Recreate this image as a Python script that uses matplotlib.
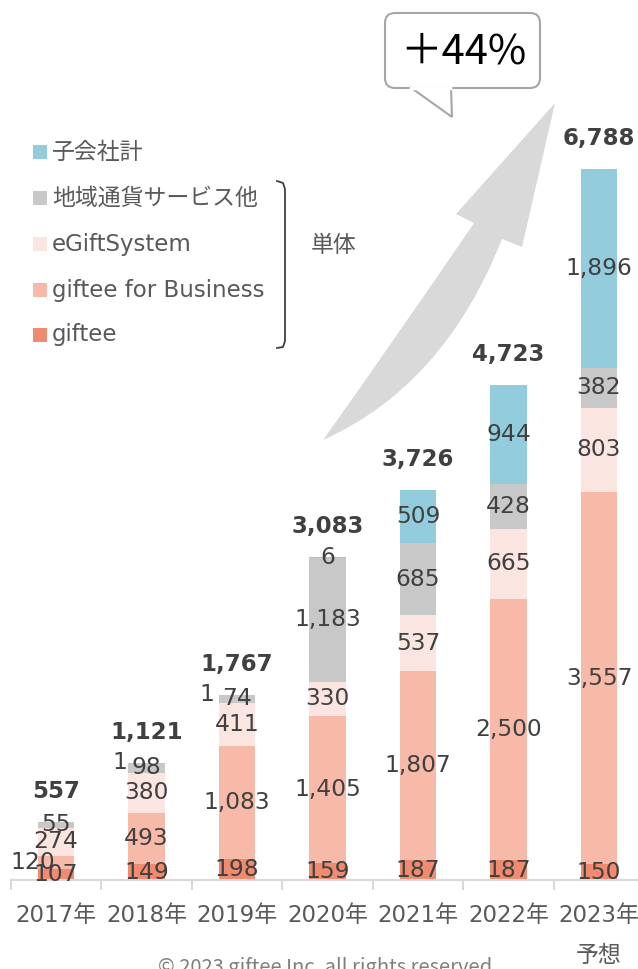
import numpy as np
import matplotlib
matplotlib.use("Agg")
import matplotlib.pyplot as plt
from matplotlib.path import Path
from matplotlib.patches import PathPatch, FancyBboxPatch, Rectangle, Polygon

plt.rcParams['font.family'] = ['DejaVu Sans', 'Noto Sans CJK JP']

years = ["2017年", "2018年", "2019年", "2020年", "2021年", "2022年", "2023年"]
series = ["giftee", "giftee for Business", "eGiftSystem", "地域通貨サービス他", "子会社計"]
giftee = [107, 149, 198, 159, 187, 187, 150]
gfb = [120, 493, 1083, 1405, 1807, 2500, 3557]
egift = [274, 380, 411, 330, 537, 665, 803]
chiiki = [55, 98, 74, 1183, 685, 428, 382]
kogaisha = [0, 1, 1, 6, 509, 944, 1896]
totals = [557, 1121, 1767, 3083, 3726, 4723, 6788]

colors = ["#F08B70", "#F7B9A8", "#FBE5E0", "#C8C8C8", "#93CDDD"]
txt = "#404040"
W, H = 638, 969

fig = plt.figure(figsize=(W / 100, H / 100), dpi=100)
ax = fig.add_axes([10.75 / W, 89 / H, 633.5 / W, 880 / H])
ax.set_xlim(-0.5, 6.5)
ax.set_ylim(0, 8402)
ax.patch.set_alpha(0)

data = [giftee, gfb, egift, chiiki, kogaisha]
x = np.arange(len(years))
bottom = np.zeros(len(years))
# labels that Excel had nudged to the left of the bar
shifted = {(0, 1): -17, (1, 4): -19, (2, 4): -22}
for s, vals in enumerate(data):
    vals = np.array(vals)
    ax.bar(x, vals, 0.4, bottom=bottom, color=colors[s], zorder=2)
    for i, v in enumerate(vals):
        if v <= 0:
            continue
        off = shifted.get((i, s), 0)
        ax.annotate(f"{v:,}", (i, bottom[i] + v / 2), xytext=(off, 0),
                    textcoords="offset points", ha="center", va="center",
                    fontsize=16.8, color=txt, zorder=3)
    bottom = bottom + vals

for i, t in enumerate(totals):
    ax.annotate(f"{t:,}", (i, bottom[i]), xytext=(0, 22), textcoords="offset points",
                ha="center", va="center", fontsize=16.5, fontweight="bold", color=txt)

for sp in ["top", "left", "right"]:
    ax.spines[sp].set_visible(False)
ax.spines["bottom"].set_color("#D9D9D9")
ax.spines["bottom"].set_linewidth(1.5)
ax.set_yticks([])
ax.set_xticks(x)
ax.set_xticklabels(years, fontsize=16.5, color="#595959")
ax.tick_params(axis="x", length=0, pad=17)
ax.set_xticks(np.arange(-0.5, 7, 1), minor=True)
ax.tick_params(axis="x", which="minor", length=7, width=1.5, color="#D9D9D9")

# overlay in pixel coordinates for the decorations
ov = fig.add_axes([0, 0, 1, 1])
ov.set_xlim(0, W)
ov.set_ylim(H, 0)
ov.axis("off")

# big curved arrow
verts = [(323, 440), (391, 345), (474, 223), (456, 214), (555, 103),
         (522, 247), (502, 239), (444, 386), (323, 440), (323, 440)]
codes = [Path.MOVETO, Path.CURVE3, Path.CURVE3, Path.LINETO, Path.LINETO,
         Path.LINETO, Path.LINETO, Path.CURVE3, Path.CURVE3, Path.CLOSEPOLY]
ov.add_patch(PathPatch(Path(verts, codes), facecolor="#D9D9D9", edgecolor="none"))

# callout
ov.add_patch(FancyBboxPatch((385, 13), 155, 75, boxstyle="round,pad=0,rounding_size=10",
                            facecolor="white", edgecolor="#A6A6A6", linewidth=1.5))
ov.add_patch(Polygon([(410, 87), (452, 117), (451, 87)], closed=False, facecolor="white",
                     edgecolor="#A6A6A6", linewidth=1.5))
ov.plot([411, 450], [88, 88], color="white", linewidth=2.5)
ov.text(463, 52, "＋44%", fontsize=30, color="black", ha="center", va="center",
        family=['Noto Sans CJK JP', 'DejaVu Sans'])

# legend
leg_y = [152, 198, 244, 290, 335]
for k, s in enumerate(reversed(range(len(series)))):
    ov.add_patch(Rectangle((33, leg_y[k] - 7), 14, 14, facecolor=colors[s], edgecolor="none"))
    ov.text(52, leg_y[k], series[s], fontsize=16.5, color="#595959", va="center", ha="left")

# bracket for 単体
bx = [277, 283, 285, 285, 283, 277]
by = [181, 183, 189, 341, 347, 348]
ov.plot(bx, by, color=txt, linewidth=1.3)
ov.text(311, 245, "単体", fontsize=16.5, color="#595959", va="center", ha="left")

ov.text(599, 955, "予想", fontsize=16.5, color="#595959", ha="center", va="center")
ov.text(325, 957, "© 2023 giftee Inc. all rights reserved", fontsize=14.5,
        color="#7F7F7F", ha="center", va="top", family=['Noto Sans CJK JP', 'DejaVu Sans'])

fig.savefig("out.png", dpi=100)
